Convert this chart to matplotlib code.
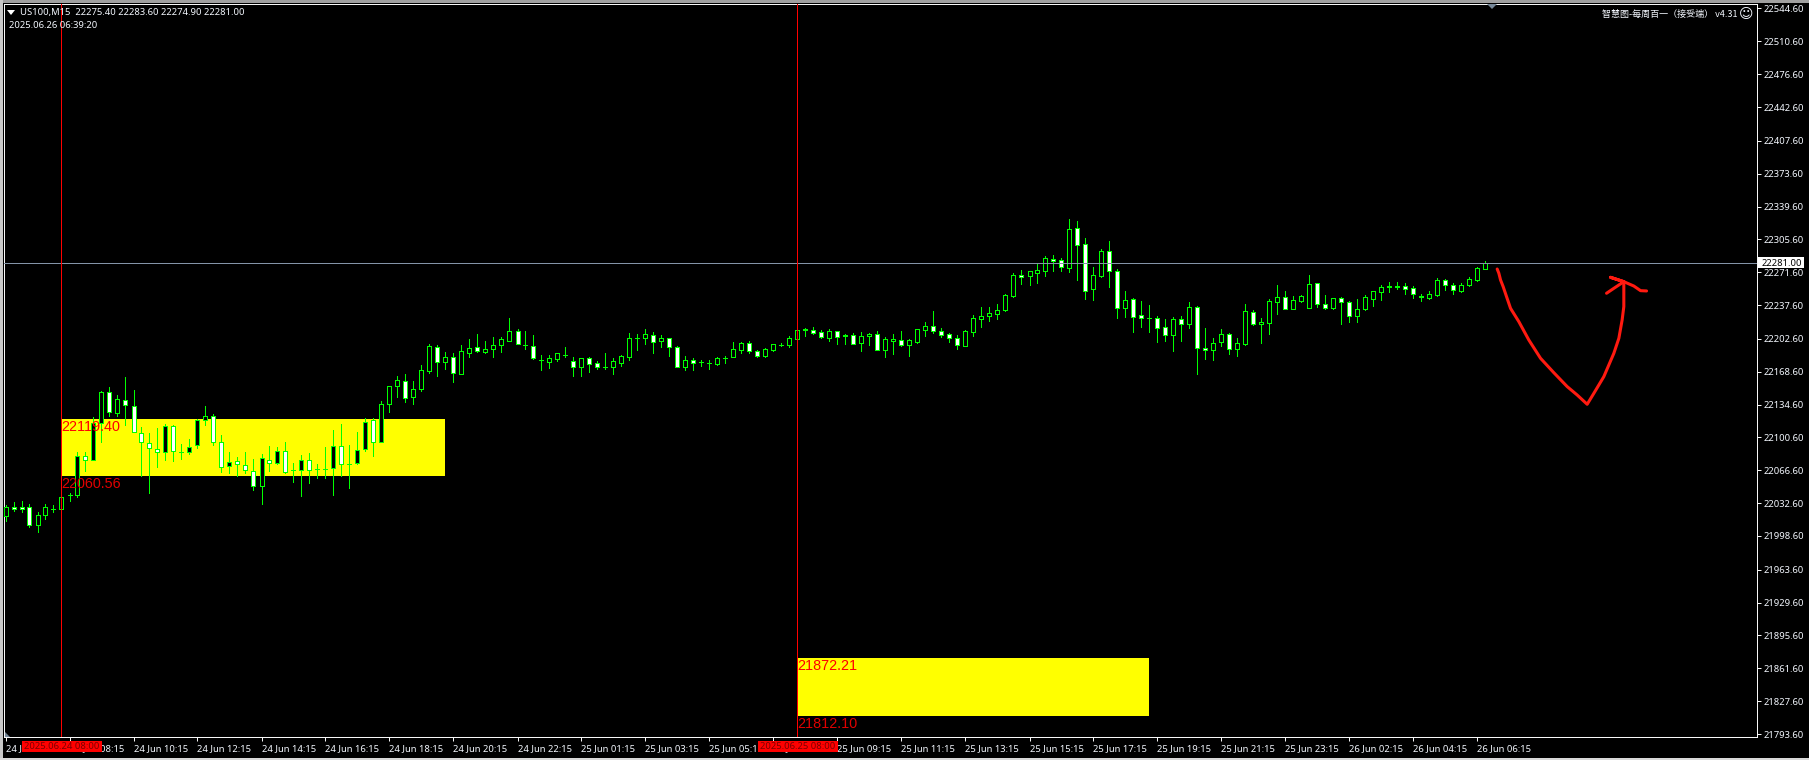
import matplotlib
matplotlib.use('Agg')
import matplotlib.pyplot as plt
import numpy as np
from matplotlib.patches import Rectangle, Polygon

# bar number is the position on the x axis, one bar = 15 minutes
opens = [22019.2, 22028.2, 22028.9, 22028.2, 22009.6, 22019.9, 22026.8, 22026.1, 22040.6, 22040.6,
         22081.7, 22076.9, 22115.1, 22147.2, 22126.2, 22139.6, 22132.7, 22105.5, 22094.4, 22088.2,
         22085.1, 22112.0, 22085.5, 22085.1, 22092.4, 22118.3, 22122.4, 22095.5, 22070.6, 22075.8,
         22071.7, 22066.2, 22050.6, 22077.5, 22073.7, 22086.2, 22066.8, 22066.5, 22077.5, 22067.9,
         22067.5, 22068.6, 22092.0, 22073.1, 22074.4, 22088.2, 22118.3, 22095.5, 22134.8, 22153.4,
         22159.3, 22142.1, 22151.0, 22169.7, 22193.8, 22179.0, 22183.5, 22166.6, 22188.3, 22193.8,
         22189.3, 22192.4, 22196.6, 22200.7, 22210.4, 22196.6, 22194.8, 22180.7, 22179.0, 22182.1,
         22186.2, 22179.3, 22173.8, 22182.4, 22177.3, 22173.9, 22173.8, 22177.9, 22184.1, 22203.7,
         22203.8, 22206.2, 22200.7, 22203.1, 22193.8, 22173.8, 22180.4, 22178.4, 22177.9, 22176.9,
         22183.0, 22184.1, 22191.4, 22197.9, 22190.4, 22185.2, 22191.4, 22196.4, 22196.6, 22202.8,
         22212.1, 22211.4, 22209.3, 22203.5, 22210.4, 22206.0, 22206.2, 22197.9, 22206.0, 22207.3,
         22191.4, 22200.9, 22201.1, 22196.6, 22199.7, 22212.1, 22215.5, 22210.4, 22207.3, 22203.1,
         22195.5, 22210.0, 22223.5, 22226.6, 22228.7, 22232.8, 22247.3, 22268.3, 22268.0, 22271.1,
         22273.2, 22285.6, 22283.9, 22276.3, 22317.0, 22300.4, 22254.5, 22267.6, 22293.2, 22272.5,
         22234.9, 22243.5, 22226.9, 22223.9, 22223.8, 22214.5, 22206.9, 22222.8, 22218.3, 22235.2,
         22192.8, 22190.8, 22199.0, 22207.3, 22191.8, 22197.7, 22230.1, 22218.4, 22219.4, 22241.1,
         22245.6, 22233.9, 22242.2, 22234.9, 22260.1, 22239.1, 22234.9, 22244.6, 22240.4, 22226.6,
         22233.9, 22244.2, 22251.5, 22256.6, 22256.6, 22257.0, 22254.9, 22247.3, 22245.3, 22248.4,
         22263.2, 22258.0, 22252.5, 22258.0, 22263.9, 22275.4]
highs = [22030.6, 22033.4, 22034.4, 22031.7, 22023.0, 22031.7, 22030.6, 22038.6, 22042.7, 22085.1,
         22085.1, 22121.4, 22148.6, 22152.8, 22144.1, 22163.1, 22149.6, 22111.0, 22104.8, 22110.4,
         22114.5, 22113.4, 22093.8, 22098.9, 22119.3, 22133.1, 22124.8, 22103.1, 22085.5, 22080.3,
         22085.5, 22078.2, 22083.1, 22091.7, 22090.3, 22095.8, 22073.7, 22082.0, 22084.4, 22073.1,
         22090.7, 22108.2, 22114.5, 22092.7, 22106.2, 22120.3, 22120.7, 22138.3, 22153.4, 22164.1,
         22166.2, 22159.0, 22175.5, 22196.9, 22196.2, 22189.0, 22187.6, 22196.2, 22202.4, 22207.6,
         22200.4, 22204.5, 22204.5, 22224.2, 22212.8, 22210.7, 22206.6, 22185.9, 22185.9, 22187.6,
         22194.2, 22183.8, 22182.4, 22183.5, 22179.7, 22187.9, 22182.4, 22185.9, 22208.6, 22207.6,
         22212.8, 22209.7, 22206.6, 22203.1, 22195.2, 22184.8, 22182.8, 22180.7, 22180.7, 22183.5,
         22184.8, 22199.3, 22199.3, 22200.4, 22191.0, 22193.1, 22197.3, 22198.3, 22205.5, 22211.4,
         22213.8, 22214.9, 22211.8, 22212.8, 22211.1, 22207.6, 22208.6, 22209.7, 22208.6, 22210.7,
         22204.5, 22207.6, 22210.7, 22202.4, 22212.4, 22220.0, 22231.4, 22213.8, 22208.6, 22206.6,
         22211.7, 22227.3, 22235.6, 22235.6, 22238.7, 22249.0, 22270.7, 22273.8, 22272.5, 22280.1,
         22288.3, 22289.4, 22286.3, 22326.6, 22324.6, 22307.0, 22277.0, 22295.6, 22303.9, 22274.9,
         22252.1, 22244.9, 22241.8, 22237.6, 22226.2, 22223.1, 22225.2, 22226.2, 22240.7, 22236.6,
         22213.9, 22203.5, 22212.8, 22208.7, 22203.5, 22238.7, 22232.5, 22224.2, 22243.9, 22258.4,
         22252.2, 22247.0, 22248.0, 22268.7, 22260.4, 22248.0, 22244.9, 22246.0, 22241.5, 22243.9,
         22248.0, 22251.8, 22258.4, 22261.5, 22261.5, 22260.4, 22257.3, 22249.1, 22252.2, 22265.6,
         22264.2, 22260.4, 22260.4, 22266.7, 22277.0, 22283.6]
lows = [22014.4, 22024.4, 22023.7, 22008.2, 22003.0, 22016.5, 22023.0, 22025.4, 22035.1, 22038.6,
        22066.2, 22076.9, 22096.2, 22123.1, 22122.7, 22113.4, 22105.8, 22060.6, 22043.4, 22070.0,
        22077.2, 22076.5, 22078.6, 22083.8, 22090.0, 22113.4, 22092.7, 22064.8, 22064.1, 22060.6,
        22063.7, 22046.1, 22032.0, 22065.5, 22073.1, 22063.7, 22054.4, 22040.3, 22053.4, 22058.6,
        22058.6, 22041.0, 22060.6, 22048.2, 22073.1, 22086.5, 22081.4, 22095.5, 22126.9, 22142.4,
        22137.2, 22135.2, 22149.0, 22167.2, 22164.1, 22171.4, 22157.9, 22166.6, 22183.8, 22189.0,
        22187.9, 22183.8, 22189.0, 22200.7, 22197.3, 22192.1, 22181.7, 22170.3, 22172.4, 22179.7,
        22183.5, 22164.1, 22164.1, 22168.3, 22171.4, 22171.4, 22166.2, 22174.5, 22180.7, 22191.0,
        22197.3, 22187.9, 22194.2, 22184.8, 22173.8, 22170.3, 22170.3, 22174.5, 22171.4, 22175.5,
        22177.6, 22184.1, 22187.9, 22187.9, 22184.1, 22183.8, 22190.0, 22195.2, 22194.2, 22202.8,
        22205.5, 22207.6, 22203.5, 22200.4, 22197.3, 22197.3, 22197.3, 22190.0, 22196.3, 22191.4,
        22183.8, 22186.9, 22195.2, 22184.8, 22198.3, 22205.5, 22208.6, 22204.5, 22199.3, 22192.1,
        22195.5, 22205.5, 22214.9, 22221.1, 22223.1, 22231.4, 22245.9, 22259.4, 22258.3, 22260.4,
        22267.6, 22272.8, 22272.8, 22271.8, 22263.5, 22243.8, 22242.8, 22266.6, 22256.3, 22224.2,
        22225.2, 22209.7, 22214.9, 22209.7, 22199.3, 22200.4, 22190.0, 22200.4, 22213.8, 22166.2,
        22181.8, 22180.7, 22195.2, 22187.0, 22184.9, 22196.3, 22217.0, 22198.3, 22207.7, 22228.4,
        22233.5, 22233.5, 22240.8, 22234.9, 22235.6, 22233.9, 22233.5, 22218.0, 22220.1, 22220.1,
        22232.5, 22236.6, 22242.8, 22251.1, 22254.2, 22249.1, 22244.9, 22241.8, 22243.9, 22247.0,
        22253.2, 22249.1, 22251.1, 22257.3, 22262.5, 22274.9]
closes = [22028.2, 22026.1, 22026.1, 22010.3, 22019.9, 22028.2, 22026.5, 22038.6, 22040.9, 22081.7,
          22076.9, 22115.1, 22147.2, 22126.5, 22140.0, 22133.8, 22105.8, 22095.5, 22089.3, 22085.1,
          22112.0, 22086.2, 22085.2, 22091.0, 22118.3, 22122.4, 22095.5, 22069.6, 22074.8, 22072.7,
          22066.5, 22050.6, 22078.9, 22073.7, 22086.9, 22065.1, 22066.5, 22077.5, 22066.5, 22067.5,
          22067.9, 22092.0, 22072.7, 22072.8, 22087.9, 22116.9, 22095.5, 22134.8, 22153.4, 22159.7,
          22141.0, 22151.0, 22170.0, 22194.8, 22179.0, 22183.5, 22166.9, 22189.7, 22192.8, 22189.7,
          22191.7, 22196.6, 22202.1, 22210.4, 22197.6, 22196.2, 22183.1, 22180.4, 22182.4, 22187.6,
          22186.0, 22173.8, 22182.4, 22176.9, 22173.8, 22173.6, 22179.3, 22184.5, 22203.1, 22203.4,
          22207.3, 22199.7, 22203.1, 22194.5, 22173.8, 22180.4, 22177.9, 22178.2, 22178.1, 22182.4,
          22183.2, 22191.7, 22197.9, 22190.4, 22184.5, 22191.7, 22196.9, 22196.6, 22203.1, 22211.4,
          22212.4, 22209.0, 22204.8, 22210.4, 22204.8, 22206.2, 22197.3, 22205.2, 22207.5, 22191.4,
          22202.1, 22202.2, 22196.6, 22201.1, 22212.4, 22215.5, 22211.1, 22206.9, 22203.1, 22196.6,
          22210.4, 22223.8, 22225.9, 22229.0, 22232.1, 22247.6, 22268.3, 22267.0, 22272.5, 22273.5,
          22285.9, 22282.8, 22277.3, 22315.9, 22300.1, 22252.5, 22268.3, 22293.2, 22272.5, 22234.9,
          22242.5, 22225.5, 22224.5, 22223.7, 22214.2, 22206.9, 22222.8, 22217.6, 22235.2, 22192.8,
          22190.8, 22198.0, 22207.3, 22191.8, 22198.0, 22231.1, 22218.0, 22219.7, 22241.5, 22245.6,
          22233.9, 22242.5, 22246.6, 22259.1, 22238.4, 22234.2, 22244.6, 22240.4, 22226.6, 22233.2,
          22245.6, 22251.8, 22256.0, 22257.7, 22257.7, 22254.6, 22248.7, 22245.6, 22248.7, 22263.2,
          22258.0, 22252.9, 22258.0, 22264.2, 22275.6, 22281.0]

price_ticks = [22544.60, 22510.60, 22476.60, 22442.60, 22407.60, 22373.60, 22339.60, 22305.60,
               22271.60, 22237.60, 22202.60, 22168.60, 22134.60, 22100.60, 22066.60, 22032.60,
               21998.60, 21963.60, 21929.60, 21895.60, 21861.60, 21827.60, 21793.60]

time_labels = ['24 Jun 06:15', '24 Jun 08:15', '24 Jun 10:15', '24 Jun 12:15', '24 Jun 14:15', '24 Jun 16:15',
               '24 Jun 18:15', '24 Jun 20:15', '24 Jun 22:15', '25 Jun 01:15', '25 Jun 03:15', '25 Jun 05:15',
               '25 Jun 07:15', '25 Jun 09:15', '25 Jun 11:15', '25 Jun 13:15', '25 Jun 15:15', '25 Jun 17:15',
               '25 Jun 19:15', '25 Jun 21:15', '25 Jun 23:15', '26 Jun 02:15', '26 Jun 04:15', '26 Jun 06:15']
time_bars = [0, 8, 16, 24, 32, 40, 48, 56, 64, 72, 80, 88, 96, 104, 112, 120, 128, 136, 144, 152, 160, 168, 176, 184]

last_price = 22281.00
session_bars = [7, 99]
session_labels = ['2025.06.24 08:00', '2025.06.25 08:00']
box_ends = [55, 143]
box_tops = [22119.40, 21872.21]
box_bottoms = [22060.56, 21812.10]

# hand drawn arrow
sketch_bars = [186.46, 186.67, 186.88, 187.21, 187.63, 188.13, 189.17, 190.42, 191.88, 193.54, 195.21,
               196.46, 197.71, 198.54, 199.79, 201.04, 201.67, 202.08, 202.29, 202.29]
sketch_prices = [22274.9, 22270.5, 22263.6, 22256.6, 22246.3, 22234.2, 22220.4, 22201.4, 22182.5, 22167.6, 22153.2,
                 22144.5, 22134.9, 22146.2, 22163.5, 22187.6, 22203.2, 22222.2, 22236.0, 22261.8]
head_bars = [200.13, 201.04, 202.29, 200.63, 202.29, 203.54, 204.38, 205.13]
head_prices = [22249.8, 22254.9, 22261.8, 22266.3, 22261.8, 22257.3, 22252.5, 22252.2]

W, H = 1809, 760
LEFT, RIGHT, TOP, BOTTOM = 4, 1757, 4, 737
FONT = 'Noto Sans'
TICK_SIZE = 6.8
TEXT_COLOR = '#f4f8ff'
CANDLE = '#00ff00'
THIN = 0.7  # one pixel at dpi 100

fig = plt.figure(figsize=(W / 100, H / 100), dpi=100, facecolor='black')
ax = fig.add_axes([LEFT / W, 1 - BOTTOM / H, (RIGHT - LEFT) / W, (BOTTOM - TOP) / H])
ax.set_facecolor('black')
ax.set_xlim((LEFT - 5.5) / 8, (RIGHT - 5.5) / 8)
ax.set_ylim(21793.6 - 3 * 1.0351, 21793.6 + 730 * 1.0351)

for side in ['left', 'top', 'right', 'bottom']:
    ax.spines[side].set_color('white')
    ax.spines[side].set_linewidth(THIN)

ax.yaxis.tick_right()
ax.set_yticks(price_ticks)
ax.set_yticklabels([f'{p:.2f}' for p in price_ticks], family=FONT, fontsize=TICK_SIZE, color=TEXT_COLOR)
ax.tick_params(axis='y', length=3, width=THIN, color='white', pad=1.5)
ax.set_xticks(time_bars)
ax.set_xticklabels(time_labels, family=FONT, fontsize=TICK_SIZE, color=TEXT_COLOR, ha='left')
ax.tick_params(axis='x', length=3, width=THIN, color='white', pad=1.8)

# yellow zones go under the candles
for start, end, top, bottom in zip(session_bars, box_ends, box_tops, box_bottoms):
    ax.add_patch(Rectangle((start, bottom), end - start, top - bottom, facecolor='#ffff00', edgecolor='none', zorder=1))

bars = np.arange(len(opens))
opens = np.array(opens)
closes = np.array(closes)
ax.vlines(bars, lows, highs, color=CANDLE, linewidth=THIN, antialiased=False, zorder=2)
fills = ['black' if c >= o else 'white' for o, c in zip(opens, closes)]
ax.bar(bars, closes - opens, bottom=opens, width=0.5, color=fills, edgecolor=CANDLE, linewidth=THIN,
       antialiased=False, zorder=3)

ax.axhline(last_price, color='#8494a8', linewidth=THIN, antialiased=False, zorder=4)
for bar in session_bars:
    ax.axvline(bar, color='#ff0000', linewidth=THIN, antialiased=False, zorder=5)

ax.text(session_bars[0], box_tops[0] - 8, f'{box_tops[0]:.2f}', family='Liberation Sans', fontsize=10.4,
        color='#ff0000', va='center', zorder=6)
ax.text(session_bars[0], box_bottoms[0] - 8, f'{box_bottoms[0]:.2f}', family='Liberation Sans', fontsize=10.4,
        color='#e00000', va='center', zorder=6)
ax.text(session_bars[1], box_tops[1] - 8, f'{box_tops[1]:.2f}', family='Liberation Sans', fontsize=10.4,
        color='#ff0000', va='center', zorder=6)
ax.text(session_bars[1], box_bottoms[1] - 8, f'{box_bottoms[1]:.2f}', family='Liberation Sans', fontsize=10.4,
        color='#e00000', va='center', zorder=6)

ax.plot(sketch_bars, sketch_prices, color='#ff1a10', linewidth=2.2, solid_capstyle='round', zorder=6)
ax.plot(head_bars, head_prices, color='#ff1a10', linewidth=2.2, solid_capstyle='round', zorder=6)


def fx(x):
    return x / W


def fy(y):
    return 1 - y / H


# window frame and the bits of terminal furniture, in pixels
fig.patches.append(Rectangle((0, fy(3)), 1, 3 / H, transform=fig.transFigure, facecolor='#a0a0a0', edgecolor='none'))
fig.patches.append(Rectangle((0, 0), 3 / W, 1, transform=fig.transFigure, facecolor='#c8c8c8', edgecolor='none'))
fig.patches.append(Rectangle((0, 0), 1, 2 / H, transform=fig.transFigure, facecolor='#d8d8d8', edgecolor='none'))
fig.patches.append(Polygon([(fx(7), fy(13 - 3)), (fx(15), fy(13 - 3)), (fx(11), fy(13 + 2))], closed=True,
                           transform=fig.transFigure, facecolor='white', edgecolor='none'))
fig.patches.append(Polygon([(fx(1487), fy(4)), (fx(1497), fy(4)), (fx(1492), fy(9))], closed=True,
                           transform=fig.transFigure, facecolor='#778899', edgecolor='none'))
fig.patches.append(Polygon([(fx(5), fy(737)), (fx(10), fy(737)), (fx(5), fy(732))], closed=True,
                           transform=fig.transFigure, facecolor='#778899', edgecolor='none'))

fig.text(fx(20), fy(13), 'US100,M15  22275.40 22283.60 22274.90 22281.00', family=FONT, fontsize=TICK_SIZE,
         color=TEXT_COLOR, va='center', ha='left', zorder=3)
fig.text(fx(9), fy(26), '2025.06.26 06:39:20', family=FONT, fontsize=TICK_SIZE, color=TEXT_COLOR, va='center',
         ha='left', zorder=3)
fig.text(fx(1738), fy(14), '智慧图-每周百一（接受端） v4.31', family=['Noto Sans CJK SC', 'DejaVu Sans'], fontsize=6.5,
         color=TEXT_COLOR, va='center', ha='right', zorder=3)
fig.text(fx(1746), fy(14), '☺', family='DejaVu Sans', fontsize=10, color=TEXT_COLOR, va='center', ha='center', zorder=3)

# boxes on the axes
for start, label in zip(session_bars, session_labels):
    cx = 5.5 + 8 * start
    fig.patches.append(Rectangle((fx(cx - 40), fy(752)), 80 / W, 11 / H, transform=fig.transFigure,
                                 facecolor='#ff0000', edgecolor='none', zorder=5))
    fig.text(fx(cx), fy(746.5), label, family=FONT, fontsize=TICK_SIZE, color='#7a0000', va='center', ha='center',
             zorder=6)

fig.patches.append(Rectangle((fx(1758), fy(268.5)), 46 / W, 11 / H, transform=fig.transFigure,
                             facecolor='white', edgecolor='none', zorder=5))
fig.text(fx(1762), fy(263), f'{last_price:.2f}', family=FONT, fontsize=TICK_SIZE, color='black', va='center',
         ha='left', zorder=6)

fig.savefig('out.png', dpi=100, facecolor='black')
